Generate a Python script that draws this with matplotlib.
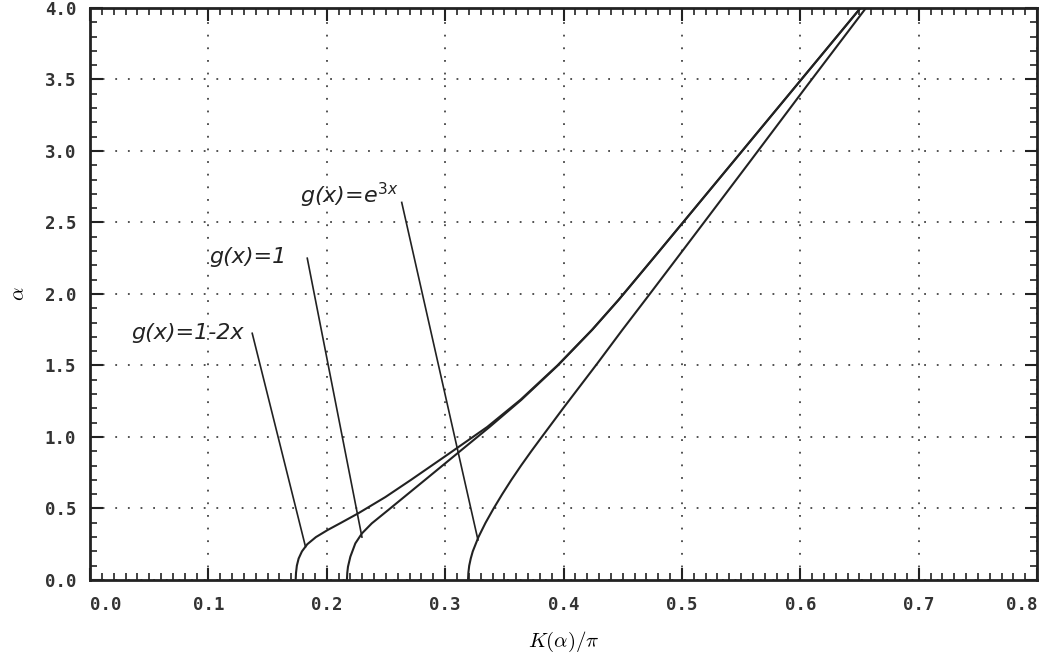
import matplotlib
matplotlib.use('Agg')
import matplotlib.pyplot as plt
from matplotlib.ticker import MultipleLocator, FormatStrFormatter, NullFormatter

# curve g(x)=1-2x
a_y = [0.00, 0.05, 0.10, 0.15, 0.20, 0.25, 0.30, 0.35, 0.40, 0.466, 0.58, 0.70, 0.88,
       1.07, 1.26, 1.50, 1.75, 1.96, 2.28, 2.61, 3.03, 3.50, 4.00]
a_x = [0.1737, 0.1740, 0.1747, 0.1762, 0.1790, 0.1835, 0.1908, 0.2008, 0.2120, 0.2265,
       0.2495, 0.2711, 0.3026, 0.3355, 0.3636, 0.3948, 0.4241, 0.4466, 0.4789, 0.5119,
       0.5539, 0.6009, 0.6509]
# curve g(x)=1
b_y = [0.00, 0.05, 0.093, 0.163, 0.256, 0.326, 0.396, 0.49, 0.70, 0.88,
       1.07, 1.26, 1.50, 1.75, 1.96, 2.28, 2.61, 3.03, 3.50, 4.00]
b_x = [0.2170, 0.2173, 0.2179, 0.2199, 0.2241, 0.2297, 0.2380, 0.2520, 0.2830, 0.3095,
       0.3375, 0.3644, 0.3952, 0.4243, 0.4467, 0.4789, 0.5119, 0.5539, 0.6009, 0.6509]
# curve g(x)=e^{3x}
c_y = [0.00, 0.05, 0.10, 0.15, 0.20, 0.30, 0.40, 0.50, 0.60, 0.70, 0.80, 0.90, 1.00,
       1.20, 1.515, 1.748, 1.958, 2.20, 2.469, 2.916, 3.46, 4.00]
c_x = [0.3193, 0.3196, 0.3203, 0.3216, 0.3233, 0.3281, 0.3341, 0.3409, 0.3482, 0.3559,
       0.3641, 0.3727, 0.3816, 0.3996, 0.4286, 0.4496, 0.4690, 0.4912, 0.5158, 0.5566,
       0.6060, 0.6555]

x_ticks = [0.0, 0.1, 0.2, 0.3, 0.4, 0.5, 0.6, 0.7, 0.8]

labels = ['g(x)=1-2x', 'g(x)=1', 'g(x)=e$^{3x}$']
label_pos = [(0.035, 1.73), (0.101, 2.26), (0.177, 2.69)]
leader_start = [(0.137, 1.725), (0.1835, 2.25), (0.2633, 2.64)]
leader_end = [(0.182, 0.233), (0.2297, 0.30), (0.3277, 0.28)]

fig = plt.figure(figsize=(10.47, 6.6), dpi=100)
ax = fig.add_axes([0.086, 0.1212, 0.9045, 0.8668])

ax.plot(a_x, a_y, color='#222222', lw=1.5)
ax.plot(b_x, b_y, color='#222222', lw=1.5)
ax.plot(c_x, c_y, color='#222222', lw=1.5)

for (lx, ly), (sx, sy), (ex, ey), t in zip(label_pos, leader_start, leader_end, labels):
    ax.text(lx, ly, t, fontsize=16, va='center', ha='left', color='#222222',
            fontstyle='italic', math_fontfamily='dejavusans')
    ax.plot([sx, ex], [sy, ey], color='#222222', lw=1.2)

ax.set_xlim(0, 0.8)
ax.set_ylim(0, 4.0)
ax.set_xticks(x_ticks)
ax.xaxis.set_minor_locator(MultipleLocator(0.01))
ax.yaxis.set_major_locator(MultipleLocator(0.5))
ax.yaxis.set_minor_locator(MultipleLocator(0.1))
ax.xaxis.set_major_formatter(NullFormatter())
ax.yaxis.set_major_formatter(FormatStrFormatter('%.1f'))
ax.tick_params(which='both', direction='in', top=True, right=True, color='#222222')
ax.tick_params(which='major', length=9, width=1.5, pad=10)
ax.tick_params(which='minor', length=5, width=1.2)
ax.tick_params(axis='y', labelsize=12.5, labelcolor='#333333')
for lab in ax.get_yticklabels():
    lab.set_family('DejaVu Sans Mono')
    lab.set_fontweight('bold')

# x tick labels: first one starts at the tick, last one ends at the spine
for i, v in enumerate(x_ticks):
    ha = 'left' if i == 0 else ('right' if i == len(x_ticks) - 1 else 'center')
    ax.text(v, -0.028, '%.1f' % v, transform=ax.get_xaxis_transform(), ha=ha, va='top',
            family='DejaVu Sans Mono', fontweight='bold', fontsize=12.5, color='#333333')

for sp in ax.spines.values():
    sp.set_linewidth(2)
    sp.set_color('#222222')

ax.grid(True, which='major', color='#444444', lw=1.3, linestyle=(0, (1, 6)))

ax.set_xlabel(r'$K(\alpha)/\pi$', fontsize=15, math_fontfamily='cm')
ax.xaxis.set_label_coords(0.5, -0.088)
ax.set_ylabel(r'$\alpha$', fontsize=15, labelpad=12, math_fontfamily='cm')

fig.savefig('out.png', dpi=100)
